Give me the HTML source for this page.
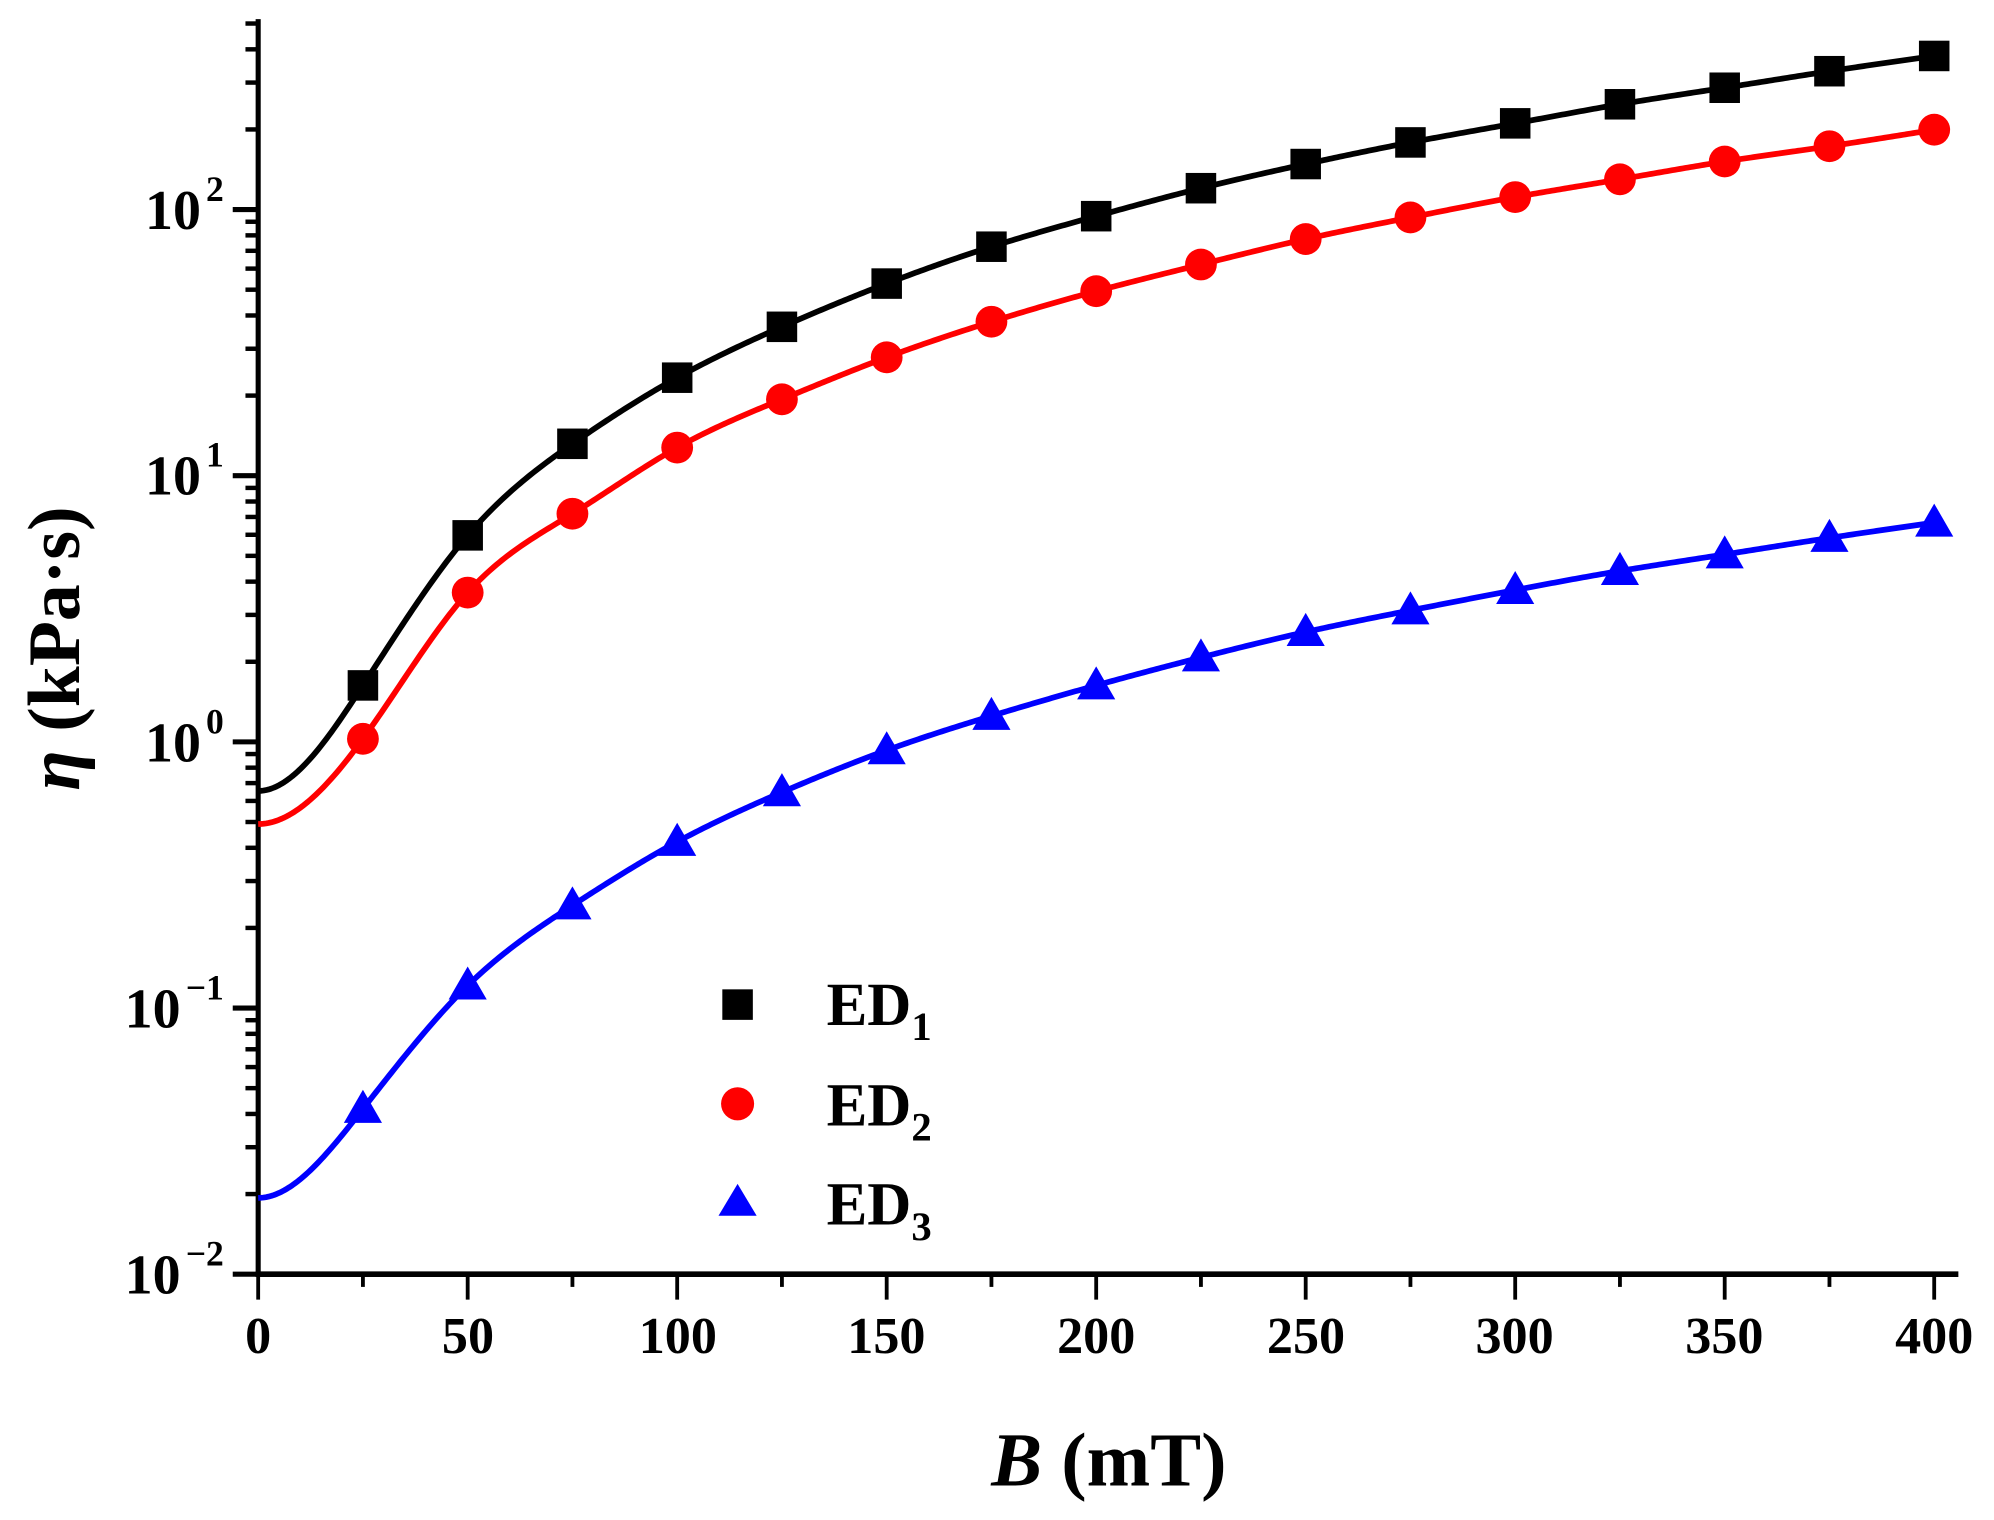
<!DOCTYPE html>
<html><head><meta charset="utf-8"><style>
html,body{margin:0;padding:0;background:#fff;width:1994px;height:1520px;overflow:hidden}
svg{display:block}
text{font-family:"Liberation Serif",serif;font-weight:bold;fill:#000}
</style></head><body>
<svg id="s" width="1994" height="1520" viewBox="0 0 1568 1195.3" xmlns="http://www.w3.org/2000/svg">
<g id="ax" stroke="#000" fill="none"></g>
<g id="cv" fill="none" stroke-width="4.5"></g>
<g id="mk"></g>
<g font-size="41" text-anchor="middle">
<text x="203" y="1064">0</text><text x="368" y="1064">50</text><text x="533" y="1064">100</text>
<text x="697" y="1064">150</text><text x="862" y="1064">200</text><text x="1027" y="1064">250</text>
<text x="1191" y="1064">300</text><text x="1356" y="1064">350</text><text x="1521" y="1064">400</text>
</g>
<g font-size="44" text-anchor="end">
<text x="158" y="180">10</text><text x="176" y="158" font-size="28">2</text>
<text x="158" y="389">10</text><text x="176" y="367" font-size="28">1</text>
<text x="158" y="599">10</text><text x="176" y="577" font-size="28">0</text>
<text x="142" y="808">10</text><text x="176" y="786" font-size="28">−1</text>
<text x="142" y="1017">10</text><text x="176" y="995" font-size="28">−2</text>
</g>
<text x="872" y="1168" font-size="60" text-anchor="middle"><tspan font-style="italic">B</tspan> (mT)</text>
<text transform="translate(62,510) rotate(-90)" font-size="58" text-anchor="middle"><tspan font-style="italic">η</tspan> (kPa·s)</text>
<rect x="568" y="778" width="24" height="24" fill="#000"/>
<circle cx="580" cy="868" r="13" fill="#f00"/>
<polygon points="580,931 595,956 565,956" fill="#00f"/>
<g font-size="48"><text x="650" y="806">ED<tspan font-size="32" dy="12">1</tspan></text>
<text x="650" y="885">ED<tspan font-size="32" dy="12">2</tspan></text>
<text x="650" y="963">ED<tspan font-size="32" dy="12">3</tspan></text></g>
</svg>
<script>
var NS="http://www.w3.org/2000/svg";
function el(p,t,a){var e=document.createElementNS(NS,t);for(var k in a)e.setAttribute(k,a[k]);p.appendChild(e);return e;}
var ax=document.getElementById('ax');
var X0=203,X1=1521,Y0=1002,dec=209.3;
el(ax,'line',{x1:X0,y1:15,x2:X0,y2:1004,'stroke-width':4});
el(ax,'line',{x1:X0-2,y1:Y0,x2:1540,y2:Y0,'stroke-width':4.5});
for(var d=-2;d<=2;d++){var y=Y0-(d+2)*dec;el(ax,'line',{x1:X0-20,y1:y,x2:X0,y2:y,'stroke-width':4});
 for(var m=2;m<=9;m++){var yy=y-Math.log10(m)*dec;if(yy<16)break;el(ax,'line',{x1:X0-10,y1:yy,x2:X0,y2:yy,'stroke-width':3.5});}}
for(var i=0;i<=16;i++){var x=X0+i*(X1-X0)/16;el(ax,'line',{x1:x,y1:Y0,x2:x,y2:Y0+(i%2?10:20),'stroke-width':3});}
var S=[
{c:'#000',m:'s',y:[622,539,421,349,297,257,223,194,170,148,129,112,97,82,69,56,44]},
{c:'#f00',m:'c',y:[648,581,466,404,352,314,281,253,229,208,188,171,155,141,127,115,102]},
{c:'#00f',m:'t',y:[942,872,775,712,662,623,590,563,539,517,497,480,464,449,436,423,411]}];
// clamped (start slope 0) / natural-end cubic spline
function spline(ys){
 var n=ys.length-1,h=1,a=ys.slice(),M=new Array(n+1).fill(0);
 // solve tridiagonal for second derivatives; clamped at 0 with f'=0, natural at end
 var A=[],B=[],C=[],D=[];
 for(var i=0;i<=n;i++){
  if(i==0){A.push(0);B.push(2);C.push(1);D.push(6*((a[1]-a[0])/h-0)/h);}
  else if(i==n){A.push(0);B.push(1);C.push(0);D.push(0);}
  else{A.push(1);B.push(4);C.push(1);D.push(6*(a[i+1]-2*a[i]+a[i-1])/(h*h));}
 }
 for(var i=1;i<=n;i++){var w=A[i]/B[i-1];B[i]-=w*C[i-1];D[i]-=w*D[i-1];}
 M[n]=D[n]/B[n];for(var i=n-1;i>=0;i--)M[i]=(D[i]-C[i]*M[i+1])/B[i];
 return function(t){var i=Math.min(Math.floor(t),n-1),u=t-i,v=1-u;
  return M[i]*v*v*v/6+M[i+1]*u*u*u/6+(a[i]-M[i]/6)*v+(a[i+1]-M[i+1]/6)*u;};
}
var cv=document.getElementById('cv'),mk=document.getElementById('mk');
S.forEach(function(s){
 var f=spline(s.y),d='';
 for(var k=0;k<=640;k++){var t=k/40;d+=(k?'L':'M')+(X0+t*(X1-X0)/16).toFixed(2)+','+f(t).toFixed(2);}
 el(cv,'path',{d:d,stroke:s.c,'stroke-linejoin':'round'});
 for(var i=1;i<s.y.length;i++){var x=X0+i*(X1-X0)/16,y=s.y[i];
  if(s.m=='s')el(mk,'rect',{x:x-12,y:y-12,width:24,height:24,fill:s.c});
  else if(s.m=='c')el(mk,'circle',{cx:x,cy:y,r:12.5,fill:s.c});
  else el(mk,'polygon',{points:x+','+(y-15)+' '+(x+15)+','+(y+11)+' '+(x-15)+','+(y+11),fill:s.c});}
});
</script>
</body></html>
